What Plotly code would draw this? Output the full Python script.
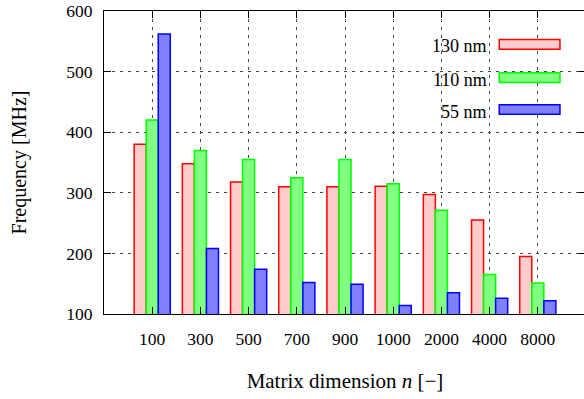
import plotly.graph_objects as go

categories = ["100", "300", "500", "700", "900", "1000", "2000", "4000", "8000"]
freq_130nm = [380, 348, 318, 310, 310, 311, 297, 255, 195]
freq_110nm = [420, 370, 355, 325, 355, 315, 271, 165, 151]
freq_55nm = [562, 208, 174, 152, 149, 114, 135, 126, 122]
series_names = ["130 nm", "110 nm", "55 nm"]
y_ticks = [100, 200, 300, 400, 500, 600]

fills = ["#ffcccc", "#80ff80", "#8080ff"]
edges = ["#ff0000", "#00ff00", "#0000ff"]
FONT = "Liberation Serif, Times New Roman, serif"

fig = go.Figure()
for name, vals, fc, ec in zip(series_names, [freq_130nm, freq_110nm, freq_55nm], fills, edges):
    fig.add_trace(go.Bar(
        x=categories, y=vals, name=name,
        marker=dict(color=fc, line=dict(color=ec, width=1.5)),
        showlegend=False,
    ))

fig.update_layout(
    width=586, height=399,
    margin=dict(l=104, r=0, t=11, b=85),
    paper_bgcolor="white", plot_bgcolor="white",
    barmode="group", bargap=0.25, bargroupgap=0,
    font=dict(family=FONT, size=17, color="black"),
)
fig.update_xaxes(
    type="category", range=[-1, 9], automargin=False,
    showline=True, linecolor="black", linewidth=1, mirror="allticks",
    ticks="inside", ticklen=7, tickcolor="black", tickwidth=1,
    showgrid=True, gridcolor="#444", griddash="3px,5px", gridwidth=1,
    ticklabelstandoff=9,
    tickfont=dict(family=FONT, size=17.5),
    title=dict(text="Matrix dimension <i>n</i> [−]", font=dict(family=FONT, size=21), standoff=25),
)
fig.update_yaxes(
    range=[100, 600], tickvals=y_ticks, automargin=False,
    showline=True, linecolor="black", linewidth=1, mirror="allticks",
    ticks="inside", ticklen=7, tickcolor="black", tickwidth=1,
    showgrid=True, gridcolor="#444", griddash="3px,5px", gridwidth=1,
    zeroline=False, ticklabelstandoff=7,
    tickfont=dict(family=FONT, size=17.5),
    title=dict(text="Frequency [MHz]", font=dict(family=FONT, size=20), standoff=34),
)

# legend box (gnuplot style: text then swatch)
fig.add_shape(type="rect", xref="paper", yref="paper", x0=0.6045, x1=0.972, y0=0.606, y1=1.0,
              fillcolor="white", line=dict(width=0), layer="between")
legend_y = [0.89, 0.78, 0.675]
for name, fc, ec, yy in zip(series_names, fills, edges, legend_y):
    fig.add_annotation(xref="paper", yref="paper", x=0.798, y=yy - 0.007, text=name, showarrow=False,
                       xanchor="right", yanchor="middle", font=dict(family=FONT, size=18))
    fig.add_shape(type="rect", xref="paper", yref="paper", x0=0.82, x1=0.946,
                  y0=yy - 0.016, y1=yy + 0.016, fillcolor=fc, line=dict(color=ec, width=1.5),
                  layer="above")

fig.write_html("out.html", config={"displayModeBar": False},
               post_script="document.body.style.margin='0';document.body.style.overflow='hidden';")
